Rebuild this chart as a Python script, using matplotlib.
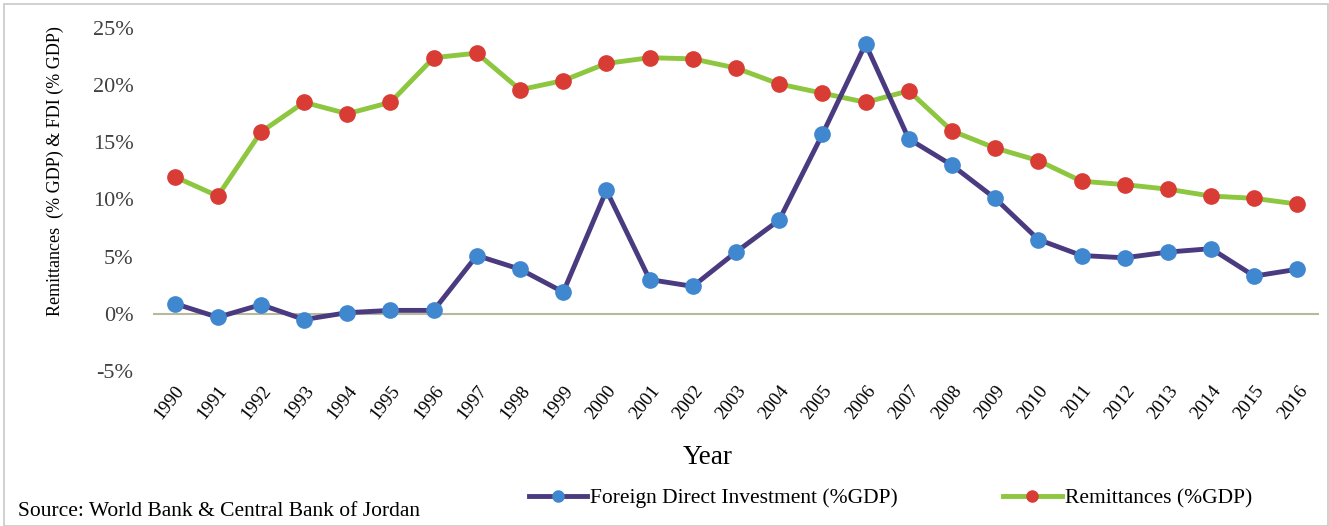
import matplotlib.pyplot as plt
from matplotlib.lines import Line2D
from matplotlib.patches import Rectangle
from matplotlib.ticker import FuncFormatter

plt.rcParams['font.family'] = ['Liberation Serif', 'DejaVu Serif']

# data (% of GDP)
years = [str(y) for y in range(1990, 2017)]
fdi = [0.9, -0.3, 0.8, -0.5, 0.1, 0.3, 0.3, 5.1, 3.9, 1.9, 10.8, 3.0, 2.4, 5.4,
       8.2, 15.7, 23.6, 15.3, 13.0, 10.1, 6.5, 5.1, 4.9, 5.4, 5.7, 3.3, 3.9]
remit = [12.0, 10.3, 15.9, 18.5, 17.5, 18.5, 22.4, 22.8, 19.6, 20.4, 21.9, 22.4,
         22.3, 21.5, 20.1, 19.3, 18.5, 19.5, 16.0, 14.5, 13.4, 11.6, 11.3, 10.9,
         10.3, 10.1, 9.6]
yticks = [-5, 0, 5, 10, 15, 20, 25]

fdi_line = '#4a3a80'
fdi_dot = '#3f87cf'
rem_line = '#8dc63f'
rem_dot = '#d83c35'

fig = plt.figure(figsize=(13.29, 5.26), dpi=100)
ax = fig.add_axes([0.1151, 0.2947, 0.8774, 0.6521])

x = range(len(years))
ax.axhline(0, color='#b8b89a', lw=1.5, zorder=1)
ax.plot(x, fdi, color=fdi_line, lw=3.5, marker='o', ms=11,
        mfc=fdi_dot, mec=fdi_dot, zorder=3)
ax.plot(x, remit, color=rem_line, lw=3.5, marker='o', ms=11,
        mfc=rem_dot, mec=rem_dot, zorder=2)

ax.set_xlim(-0.5, len(years) - 0.5)
ax.set_ylim(-5, 25)
ax.set_yticks(yticks)
ax.yaxis.set_major_formatter(FuncFormatter(lambda v, p: f'{v:.0f}%'))
ax.set_xticks(list(x))
ax.set_xticklabels(years, rotation=52, ha='right', va='top',
                   rotation_mode='anchor', fontsize=13.5)
ax.tick_params(axis='y', length=0, pad=14, labelsize=16, labelcolor='#404040')
ax.tick_params(axis='x', length=0, pad=8)
for s in ax.spines.values():
    s.set_visible(False)

fig.text(55 / 1329, 1 - 171 / 526, 'Remittances  (% GDP) & FDI (% GDP)',
         rotation=90, ha='center', va='center', fontsize=13)
fig.text(708 / 1329, 1 - 458 / 526, 'Year', ha='center', va='center', fontsize=19.5)
fig.text(18 / 1329, 1 - 512 / 526, 'Source: World Bank & Central Bank of Jordan',
         ha='left', va='center', fontsize=15.5)

handles = [
    Line2D([], [], color=fdi_line, lw=3.5, marker='o', ms=8, mfc=fdi_dot, mec=fdi_dot),
    Line2D([], [], color=rem_line, lw=3.5, marker='o', ms=8, mfc=rem_dot, mec=rem_dot),
]
fig.legend(handles, ['Foreign Direct Investment (%GDP)', 'Remittances (%GDP)'],
           loc='center', bbox_to_anchor=(0.670, 1 - 498 / 526), ncol=2,
           frameon=False, fontsize=15.5, handlelength=2.7, handletextpad=0.15,
           columnspacing=4.9)

fig.patches.append(Rectangle((0.003, 0.0), 0.996, 0.993, transform=fig.transFigure,
                             fill=False, edgecolor='#c8c8c8', lw=1.2))

fig.savefig('out.png', dpi=100)
